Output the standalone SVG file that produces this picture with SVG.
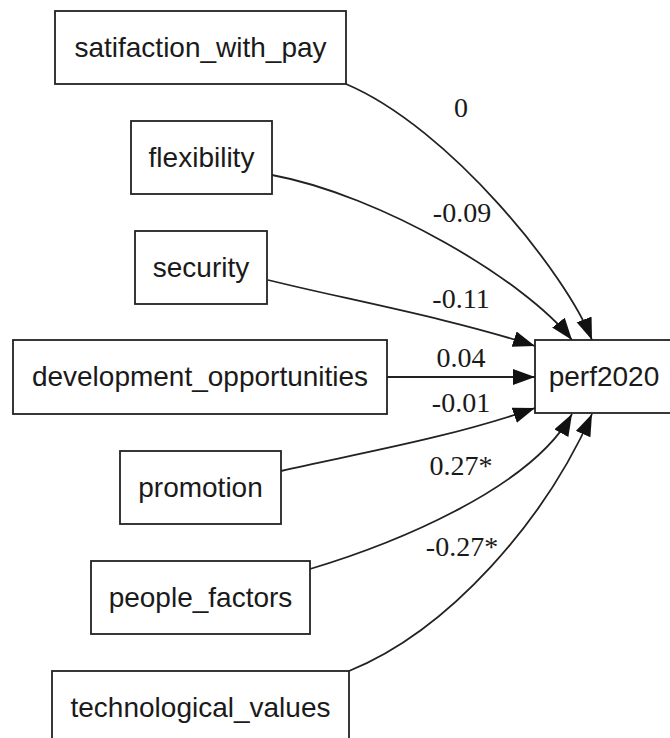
<svg xmlns="http://www.w3.org/2000/svg" width="670" height="738" viewBox="0 0 670 738">
<defs>
<style>
.node rect{fill:#fff;stroke:#222;stroke-width:1.8}
.node text{font-family:"Liberation Sans",Arial,sans-serif;font-size:28px;fill:#1a1a1a;text-anchor:middle}
.edge path{fill:none;stroke:#222;stroke-width:1.8}
.lbl{font-family:"Liberation Serif","Times New Roman",serif;font-size:28px;fill:#1a1a1a;text-anchor:middle}
</style>
<marker id="ah" markerUnits="userSpaceOnUse" markerWidth="24" markerHeight="18" refX="22" refY="8" orient="auto">
<path d="M0,0 L22,8 L0,16 z" fill="#111"/>
</marker>
</defs>
<rect width="670" height="738" fill="#fff"/>
<g id="connectors" class="edge">
<path d="M346,84 C450,128 567,275 592,340" marker-end="url(#ah)"/>
<path d="M272,175 C380,195 525,280 572,340" marker-end="url(#ah)"/>
<path d="M268,280 C340,298 450,318 535,346" marker-end="url(#ah)"/>
<path d="M387,377 L535,377" marker-end="url(#ah)"/>
<path d="M281,471 C350,455 450,438 535,408" marker-end="url(#ah)"/>
<path d="M310,569 C390,545 530,490 572,414" marker-end="url(#ah)"/>
<path d="M349,671 C450,630 545,520 592,414" marker-end="url(#ah)"/>
</g>
<g id="labels">
<text class="lbl" x="461" y="117">0</text>
<text class="lbl" x="462" y="222">-0.09</text>
<text class="lbl" x="461" y="308">-0.11</text>
<text class="lbl" x="461" y="367">0.04</text>
<text class="lbl" x="461" y="412">-0.01</text>
<text class="lbl" x="461" y="475">0.27*</text>
<text class="lbl" x="462" y="556">-0.27*</text>
</g>
<g id="satifaction_with_pay" class="node"><rect x="55" y="11" width="291" height="73"/><text x="200.5" y="57">satifaction_with_pay</text></g>
<g id="flexibility" class="node"><rect x="131" y="121" width="141" height="73"/><text x="201.5" y="167">flexibility</text></g>
<g id="security" class="node"><rect x="135" y="231" width="132" height="73"/><text x="201" y="277">security</text></g>
<g id="development_opportunities" class="node"><rect x="13" y="340" width="374" height="74"/><text x="200" y="386">development_opportunities</text></g>
<g id="perf2020" class="node"><rect x="535" y="340" width="145" height="73"/><text x="604" y="386">perf2020</text></g>
<g id="promotion" class="node"><rect x="120" y="451" width="161" height="73"/><text x="200.5" y="497">promotion</text></g>
<g id="people_factors" class="node"><rect x="91" y="561" width="219" height="73"/><text x="200.5" y="607">people_factors</text></g>
<g id="technological_values" class="node"><rect x="52" y="671" width="297" height="80"/><text x="200.5" y="717">technological_values</text></g>
</svg>
